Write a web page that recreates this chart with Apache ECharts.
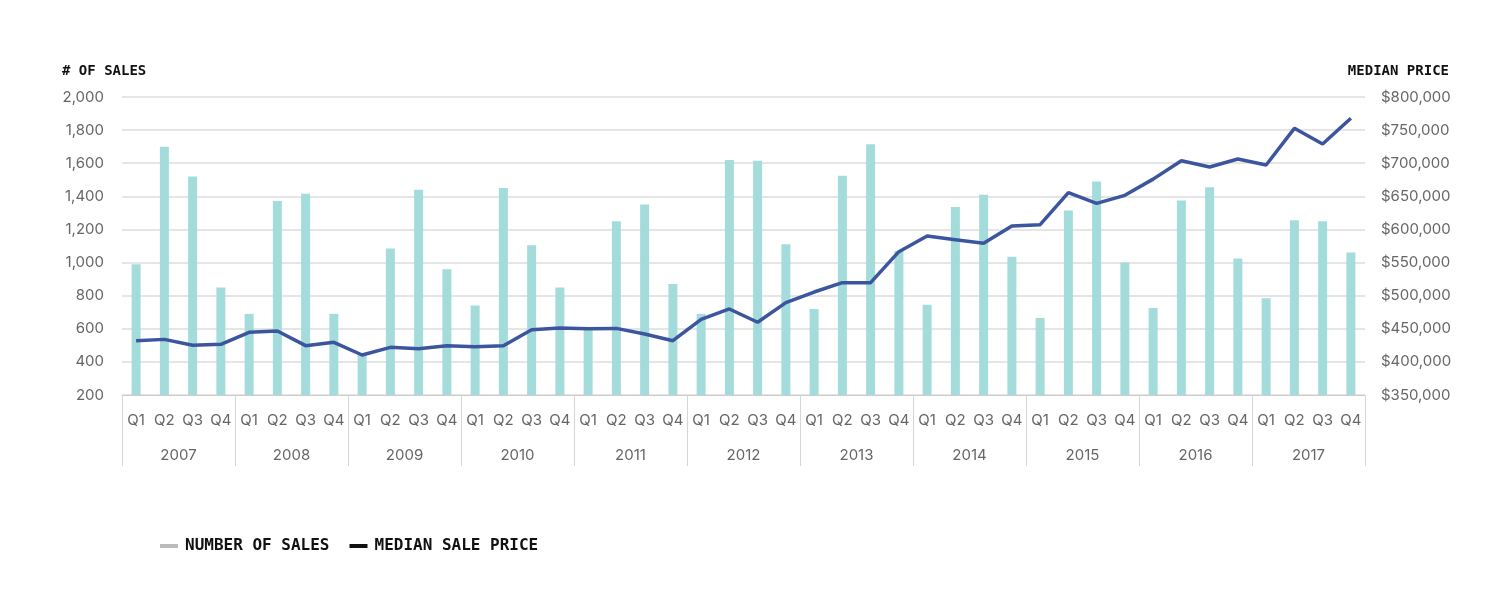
<!DOCTYPE html>
<html>
<head>
<meta charset="utf-8">
<script src="https://cdn.jsdelivr.net/npm/echarts@6/dist/echarts.min.js"></script>
<style>html,body{margin:0;padding:0;background:#fff}#c{width:1500px;height:601px}</style>
</head>
<body>
<div id="c"></div>
<script>
const years = ['2007','2008','2009','2010','2011','2012','2013','2014','2015','2016','2017'];
const quarters = ['Q1','Q2','Q3','Q4'];
const sales = [
  990,1700,1520,850,
  690,1372,1415,690,
  450,1085,1440,960,
  740,1450,1105,850,
  600,1250,1350,870,
  690,1620,1615,1110,
  720,1525,1715,1070,
  745,1335,1410,1035,
  665,1315,1490,1000,
  725,1375,1455,1025,
  785,1255,1250,1060
];
const medianPrice = [
  432000,434000,425000,426500,
  444700,446600,424500,429600,
  410400,422000,420000,424500,
  423000,424500,448600,451000,
  450000,450600,442000,432000,
  464300,479900,459800,489400,
  505500,519600,519600,566400,
  590100,584600,579000,605200,
  607200,655500,639400,651500,
  676000,703800,694300,706400,
  697300,752700,729000,767800
];
const leftTicks = {min:200, max:2000, interval:200};
const rightTicks = {min:350000, max:800000, interval:50000};

const cats = [];
years.forEach(y => quarters.forEach(q => cats.push(y + ' ' + q)));

const labelFont = {fontFamily:'Inter', fontSize:15, color:'#666'};
const monoFont = {fontFamily:'DejaVu Sans Mono', fontSize:14, fontWeight:'bold', color:'#111'};

const chart = echarts.init(document.getElementById('c'));
chart.setOption({
  animation:false,
  title:[
    {text:'# OF SALES', left:57, top:59, textStyle:monoFont},
    {text:'MEDIAN PRICE', right:46, top:59, textStyle:monoFont}
  ],
  grid:{left:122, right:135, top:97, bottom:206},
  legend:{
    left:155, top:533, itemWidth:18, itemHeight:4, itemGap:20,
    icon:'rect',
    textStyle:{fontFamily:'DejaVu Sans Mono', fontSize:16, fontWeight:'bold', color:'#111', padding:[0,0,0,2]},
    data:[
      {name:'NUMBER OF SALES', itemStyle:{color:'#bbbbbb'}},
      {name:'MEDIAN SALE PRICE', itemStyle:{color:'#111111'}}
    ]
  },
  xAxis:[
    {
      type:'category', data:cats, position:'bottom',
      axisLine:{show:true, lineStyle:{color:'#cccccc', width:1}},
      axisTick:{show:false},
      axisLabel:{...labelFont, interval:0, margin:18, formatter:v => v.split(' ')[1]}
    },
    {
      type:'category', data:years, position:'bottom', gridIndex:0,
      axisLine:{show:false},
      axisTick:{show:true, length:71, interval:0, lineStyle:{color:'#d6d6d6'}},
      axisLabel:{...labelFont, interval:0, margin:53}
    }
  ],
  yAxis:[
    {
      type:'value', ...leftTicks,
      axisLine:{show:false}, axisTick:{show:false},
      splitLine:{lineStyle:{color:'#dcdcdc', width:1.5}},
      axisLabel:{...labelFont, margin:18, formatter:v => v.toLocaleString('en-US')}
    },
    {
      type:'value', ...rightTicks,
      axisLine:{show:false}, axisTick:{show:false},
      splitLine:{show:false},
      axisLabel:{...labelFont, margin:16, formatter:v => '$' + v.toLocaleString('en-US')}
    }
  ],
  series:[
    {
      name:'NUMBER OF SALES', type:'bar', data:sales, xAxisIndex:0, yAxisIndex:0,
      barWidth:9, itemStyle:{color:'#a3dcda'}
    },
    {
      name:'MEDIAN SALE PRICE', type:'line', data:medianPrice, xAxisIndex:0, yAxisIndex:1,
      symbol:'none', lineStyle:{color:'#3b559f', width:3.5}, itemStyle:{color:'#3b559f'}
    }
  ]
});
</script>
</body>
</html>
